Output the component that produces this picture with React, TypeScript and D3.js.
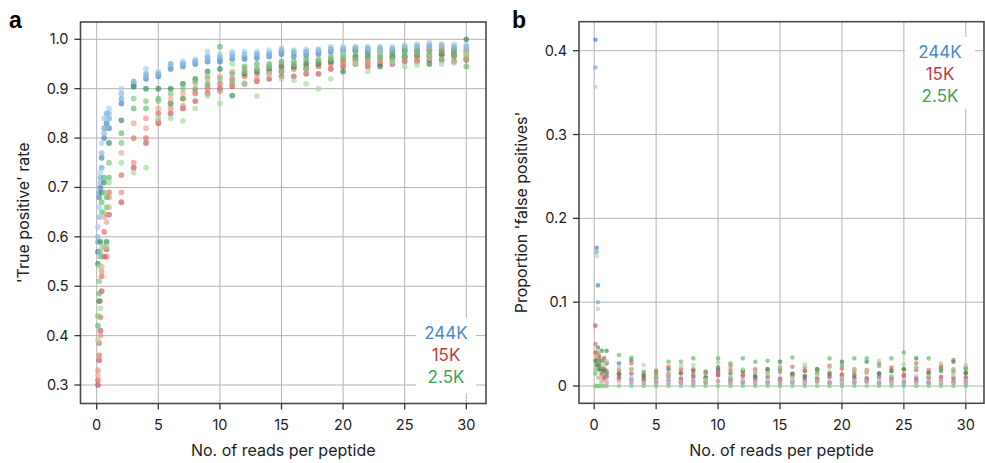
import React from 'react';
import * as d3 from 'd3';

// reads per peptide (x positions shared by every replicate)
const reads = [0.1, 0.2, 0.3, 0.4, 0.6, 0.8, 1, 2, 3, 4, 5, 6, 7, 8, 9, 10, 11, 12, 13, 14, 15, 16, 17, 18, 19, 20, 21, 22, 23, 24, 25, 26, 27, 28, 29, 30];

// panel a: 'true positive' rate, four replicates per library size
const tp244a = [0.57, 0.68, 0.70, 0.76, 0.80, 0.83, 0.82, 0.87, 0.91, 0.92, 0.925, 0.94, 0.945, 0.95, 0.955, 0.955, 0.96, 0.96, 0.962, 0.965, 0.97, 0.965, 0.968, 0.97, 0.975, 0.975, 0.978, 0.975, 0.975, 0.975, 0.978, 0.978, 0.98, 0.978, 0.978, 0.975];
const tp244b = [0.59, 0.69, 0.72, 0.74, 0.82, 0.85, 0.84, 0.88, 0.915, 0.93, 0.93, 0.945, 0.95, 0.955, 0.965, 0.96, 0.97, 0.965, 0.968, 0.972, 0.975, 0.972, 0.975, 0.975, 0.98, 0.98, 0.982, 0.98, 0.98, 0.98, 0.982, 0.985, 0.985, 0.983, 0.983, 0.98];
const tp244c = [0.62, 0.66, 0.73, 0.79, 0.84, 0.84, 0.86, 0.90, 0.91, 0.94, 0.935, 0.95, 0.955, 0.96, 0.975, 0.97, 0.975, 0.975, 0.975, 0.978, 0.982, 0.978, 0.98, 0.98, 0.985, 0.985, 0.985, 0.985, 0.985, 0.985, 0.988, 0.99, 0.993, 0.99, 0.99, 0.988];
const tp244d = [0.60, 0.64, 0.71, 0.77, 0.81, 0.82, 0.85, 0.89, 0.905, 0.925, 0.93, 0.95, 0.95, 0.955, 0.96, 0.965, 0.965, 0.97, 0.97, 0.97, 0.978, 0.975, 0.975, 0.978, 0.98, 0.98, 0.982, 0.982, 0.982, 0.98, 0.985, 0.985, 0.988, 0.988, 0.985, 0.985];
const tp15a = [0.30, 0.35, 0.41, 0.49, 0.56, 0.575, 0.645, 0.67, 0.74, 0.79, 0.83, 0.85, 0.86, 0.875, 0.89, 0.90, 0.905, 0.91, 0.915, 0.92, 0.925, 0.925, 0.93, 0.93, 0.94, 0.945, 0.95, 0.945, 0.95, 0.95, 0.955, 0.955, 0.958, 0.958, 0.955, 0.958];
const tp15b = [0.31, 0.385, 0.437, 0.52, 0.61, 0.56, 0.69, 0.725, 0.80, 0.80, 0.85, 0.87, 0.88, 0.89, 0.90, 0.91, 0.92, 0.925, 0.93, 0.935, 0.935, 0.94, 0.94, 0.945, 0.95, 0.955, 0.96, 0.955, 0.96, 0.96, 0.965, 0.965, 0.968, 0.968, 0.965, 0.968];
const tp15c = [0.32, 0.36, 0.47, 0.54, 0.64, 0.63, 0.66, 0.77, 0.83, 0.82, 0.86, 0.88, 0.89, 0.91, 0.92, 0.925, 0.935, 0.94, 0.94, 0.945, 0.95, 0.95, 0.955, 0.955, 0.96, 0.965, 0.968, 0.965, 0.968, 0.97, 0.972, 0.975, 0.978, 0.978, 0.975, 0.975];
const tp15d = [0.33, 0.36, 0.40, 0.53, 0.58, 0.645, 0.68, 0.69, 0.75, 0.84, 0.835, 0.86, 0.865, 0.895, 0.905, 0.895, 0.91, 0.935, 0.92, 0.93, 0.94, 0.945, 0.945, 0.95, 0.955, 0.95, 0.955, 0.95, 0.955, 0.965, 0.96, 0.96, 0.965, 0.97, 0.97, 0.962];
const tp25a = [0.545, 0.47, 0.59, 0.69, 0.71, 0.59, 0.79, 0.836, 0.904, 0.90, 0.90, 0.90, 0.91, 0.92, 0.935, 0.94, 0.886, 0.93, 0.935, 0.94, 0.945, 0.945, 0.95, 0.95, 0.955, 0.935, 0.965, 0.965, 0.945, 0.965, 0.965, 0.968, 0.95, 0.97, 0.968, 1.0];
const tp25b = [0.42, 0.485, 0.56, 0.67, 0.72, 0.68, 0.72, 0.81, 0.86, 0.86, 0.88, 0.87, 0.88, 0.90, 0.91, 0.985, 0.93, 0.945, 0.95, 0.95, 0.955, 0.955, 0.96, 0.955, 0.965, 0.96, 0.975, 0.97, 0.965, 0.97, 0.975, 0.975, 0.975, 0.975, 0.975, 0.945];
const tp25c = [0.39, 0.54, 0.455, 0.58, 0.65, 0.58, 0.71, 0.75, 0.73, 0.74, 0.84, 0.84, 0.835, 0.86, 0.885, 0.87, 0.95, 0.91, 0.885, 0.93, 0.92, 0.917, 0.91, 0.90, 0.92, 0.97, 0.95, 0.935, 0.975, 0.955, 0.945, 0.948, 0.965, 0.95, 0.952, 0.97];
const tp25d = [0.44, 0.51, 0.57, 0.65, 0.69, 0.66, 0.75, 0.79, 0.88, 0.875, 0.875, 0.89, 0.90, 0.915, 0.925, 0.92, 0.915, 0.935, 0.94, 0.945, 0.935, 0.95, 0.94, 0.96, 0.96, 0.965, 0.96, 0.96, 0.96, 0.96, 0.965, 0.97, 0.965, 0.96, 0.965, 0.96];

// panel b: proportion 'false positives'
const fp244a = [0.413, 0.165, 0.12, 0.03, 0.02, 0.01, 0.015, 0.027, 0.008, 0.006, 0.005, 0.007, 0.004, 0.006, 0.005, 0.018, 0.006, 0.005, 0.007, 0.004, 0.006, 0.005, 0.007, 0.006, 0.004, 0.008, 0.005, 0.006, 0.004, 0.007, 0.005, 0.006, 0.004, 0.007, 0.005, 0.006];
const fp244b = [0.38, 0.16, 0.10, 0.025, 0.015, 0.02, 0.01, 0.008, 0.004, 0.003, 0.004, 0.003, 0.005, 0.003, 0.004, 0.006, 0.003, 0.004, 0.003, 0.005, 0.003, 0.004, 0.003, 0.005, 0.004, 0.003, 0.004, 0.005, 0.003, 0.004, 0.003, 0.005, 0.004, 0.003, 0.004, 0.003];
const fp244c = [0.357, 0.155, 0.092, 0.02, 0.01, 0.008, 0.005, 0.012, 0.01, 0.008, 0.009, 0.011, 0.008, 0.01, 0.009, 0.012, 0.01, 0.008, 0.011, 0.009, 0.01, 0.008, 0.012, 0.009, 0.01, 0.011, 0.009, 0.01, 0.008, 0.011, 0.009, 0.012, 0.01, 0.009, 0.011, 0.01];
const fp15a = [0.072, 0.04, 0.038, 0.035, 0.03, 0.033, 0.027, 0.01, 0.015, 0.008, 0.01, 0.012, 0.009, 0.011, 0.01, 0.013, 0.009, 0.012, 0.01, 0.011, 0.008, 0.012, 0.01, 0.009, 0.011, 0.012, 0.01, 0.009, 0.011, 0.01, 0.012, 0.009, 0.01, 0.011, 0.009, 0.01];
const fp15b = [0.05, 0.035, 0.025, 0.02, 0.015, 0.02, 0.012, 0.019, 0.027, 0.015, 0.014, 0.023, 0.016, 0.02, 0.015, 0.019, 0.024, 0.018, 0.016, 0.02, 0.017, 0.023, 0.018, 0.02, 0.016, 0.021, 0.017, 0.019, 0.027, 0.018, 0.02, 0.027, 0.019, 0.021, 0.031, 0.022];
const fp15c = [0.038, 0.03, 0.02, 0.01, 0.005, 0.008, 0.004, 0.005, 0.006, 0.004, 0.005, 0.006, 0.005, 0.004, 0.006, 0.005, 0.004, 0.006, 0.005, 0.004, 0.006, 0.005, 0.004, 0.006, 0.005, 0.004, 0.006, 0.005, 0.004, 0.006, 0.005, 0.004, 0.006, 0.005, 0.004, 0.006];
const fp15d = [0.04, 0.03, 0.033, 0.025, 0.02, 0.01, 0.018, 0.014, 0.02, 0.012, 0.018, 0.015, 0.02, 0.014, 0.017, 0.015, 0.019, 0.014, 0.02, 0.016, 0.022, 0.014, 0.018, 0.015, 0.024, 0.014, 0.02, 0.016, 0.015, 0.022, 0.014, 0.019, 0.016, 0.024, 0.017, 0.015];
const fp25a = [0.03, 0.025, 0.046, 0.02, 0.042, 0.018, 0.042, 0.015, 0.031, 0.012, 0.01, 0.02, 0.015, 0.018, 0.01, 0.022, 0.015, 0.018, 0.012, 0.02, 0.029, 0.015, 0.012, 0.02, 0.014, 0.029, 0.013, 0.029, 0.015, 0.018, 0.02, 0.033, 0.015, 0.018, 0.029, 0.016];
const fp25b = [0.015, 0.02, 0.028, 0.03, 0.022, 0.03, 0.015, 0.037, 0.034, 0.017, 0.017, 0.029, 0.029, 0.033, 0.017, 0.033, 0.027, 0.033, 0.029, 0.030, 0.02, 0.034, 0.022, 0.018, 0.033, 0.025, 0.033, 0.033, 0.024, 0.033, 0.04, 0.022, 0.033, 0.02, 0.02, 0.02];
const fp25c = [0, 0, 0, 0, 0, 0, 0, 0, 0, 0, 0, 0, 0, 0, 0, 0, 0, 0, 0, 0, 0, 0, 0, 0, 0, 0, 0, 0, 0, 0, 0, 0, 0, 0, 0, 0];
const fp25d = [0.02, 0.035, 0.01, 0.04, 0.005, 0.025, 0.03, 0.022, 0.02, 0.025, 0.01, 0.013, 0.024, 0.025, 0.008, 0.028, 0.01, 0.02, 0.017, 0.015, 0.023, 0.01, 0.026, 0.013, 0.022, 0.01, 0.02, 0.017, 0.03, 0.012, 0.026, 0.022, 0.012, 0.027, 0.013, 0.025];

const xTicks = [0, 5, 10, 15, 20, 25, 30];
const tpTicks = [0.3, 0.4, 0.5, 0.6, 0.7, 0.8, 0.9, 1.0];
const fpTicks = [0, 0.1, 0.2, 0.3, 0.4];
const legendLabels = ['244K', '15K', '2.5K'];
const legendColors = ['#4a89c8', '#c23b3f', '#3ba558'];

const font = 'Inter, "Noto Sans", sans-serif';

const tpSeries = [
  { v: tp244a, c: '#3f7fc1' }, { v: tp244b, c: '#6aa5d8' }, { v: tp244c, c: '#a6cbea' }, { v: tp244d, c: '#86b8e0' },
  { v: tp15a, c: '#c0505a' }, { v: tp15b, c: '#ea6459' }, { v: tp15c, c: '#f4a092' }, { v: tp15d, c: '#e88a80' },
  { v: tp25a, c: '#2e8b57' }, { v: tp25b, c: '#5cb86a' }, { v: tp25c, c: '#a3d99b' }, { v: tp25d, c: '#78c47a' },
];
const fpSeries = [
  { v: fp244a, c: '#3f7fc1' }, { v: fp244b, c: '#6aa5d8' }, { v: fp244c, c: '#a6cbea' },
  { v: fp15a, c: '#c0505a' }, { v: fp15b, c: '#ea6459' }, { v: fp15c, c: '#f4a092' }, { v: fp15d, c: '#e05a5a' },
  { v: fp25a, c: '#2e8b57' }, { v: fp25b, c: '#5cb86a' }, { v: fp25c, c: '#7cc87a' }, { v: fp25d, c: '#a3d99b' },
];

function Panel({ frame, x0, x30, yScale, yTicks, fmt, series, r, label, yTitle, legend }) {
  const x = d3.scaleLinear().domain([0, 30]).range([x0, x30]);
  const [L, T, R, B] = frame;
  const midY = (T + B) / 2;
  return (
    <g>
      <text x={label.x} y={label.y} fontSize={23} fontWeight={700} fontFamily="Arial, Liberation Sans, sans-serif">{label.t}</text>
      {xTicks.map(t => (
        <line key={'gx' + t} x1={x(t)} x2={x(t)} y1={T} y2={B} stroke="#b4b4b4" strokeWidth={1} />
      ))}
      {yTicks.map(t => (
        <line key={'gy' + t} x1={L} x2={R} y1={yScale(t)} y2={yScale(t)} stroke="#b4b4b4" strokeWidth={1} />
      ))}
      {series.map((s, si) => (
        <g key={si}>
          {s.v.map((v, i) => (
            <circle key={i} cx={x(reads[i])} cy={yScale(v)} r={r} fill={s.c} fillOpacity={0.65} />
          ))}
        </g>
      ))}
      <rect x={legend.x} y={legend.y} width={legend.w} height={legend.h} fill="#fff" />
      {legendLabels.map((t, i) => (
        <text key={t} x={legend.x + legend.w / 2} y={legend.y + 21 + i * 22} textAnchor="middle" fontSize={17} fill={legendColors[i]} fontFamily={font}>{t}</text>
      ))}
      <rect x={L} y={T} width={R - L} height={B - T} fill="none" stroke="#4a4a4a" strokeWidth={1.6} />
      {xTicks.map(t => (
        <g key={'tx' + t}>
          <line x1={x(t)} x2={x(t)} y1={B} y2={B + 6} stroke="#333" strokeWidth={1.3} />
          <text x={x(t)} y={430} textAnchor="middle" fontSize={14.5} fill="#222" fontFamily={font}>{t}</text>
        </g>
      ))}
      {yTicks.map(t => (
        <g key={'ty' + t}>
          <line x1={L - 6} x2={L} y1={yScale(t)} y2={yScale(t)} stroke="#333" strokeWidth={1.3} />
          <text x={L - 12} y={yScale(t) + 5} textAnchor="end" fontSize={14.5} fill="#222" fontFamily={font}>{fmt(t)}</text>
        </g>
      ))}
      <text x={(L + R) / 2} y={456} textAnchor="middle" fontSize={16} fill="#222" fontFamily={font}>No. of reads per peptide</text>
      <text transform={`translate(${label.titleX},${midY}) rotate(-90)`} textAnchor="middle" fontSize={16} fill="#222" fontFamily={font}>{yTitle}</text>
    </g>
  );
}

export default function App() {
  const yA = d3.scaleLinear().domain([0.3, 1.0]).range([385, 39.3]);
  const yB = d3.scaleLinear().domain([0, 0.4]).range([386, 50.7]);
  return (
    <svg width={985} height={463} style={{ position: 'absolute', left: 0, top: 0, background: '#fff' }}>
      <Panel
        frame={[80.5, 22, 486, 403.5]}
        x0={96.7} x30={466.3}
        yScale={yA}
        yTicks={tpTicks}
        fmt={d3.format('.1f')}
        series={tpSeries}
        r={2.9}
        label={{ t: 'a', x: 9, y: 28, titleX: 29 }}
        yTitle="'True positive' rate"
        legend={{ x: 416, y: 318, w: 60, h: 75 }}
      />
      <Panel
        frame={[579, 21.7, 984, 403.3]}
        x0={594.2} x30={965.8}
        yScale={yB}
        yTicks={fpTicks}
        fmt={t => (t === 0 ? '0' : d3.format('.1f')(t))}
        series={fpSeries}
        r={2.3}
        label={{ t: 'b', x: 512, y: 28, titleX: 527 }}
        yTitle="Proportion 'false positives'"
        legend={{ x: 905, y: 37, w: 70, h: 72 }}
      />
    </svg>
  );
}
